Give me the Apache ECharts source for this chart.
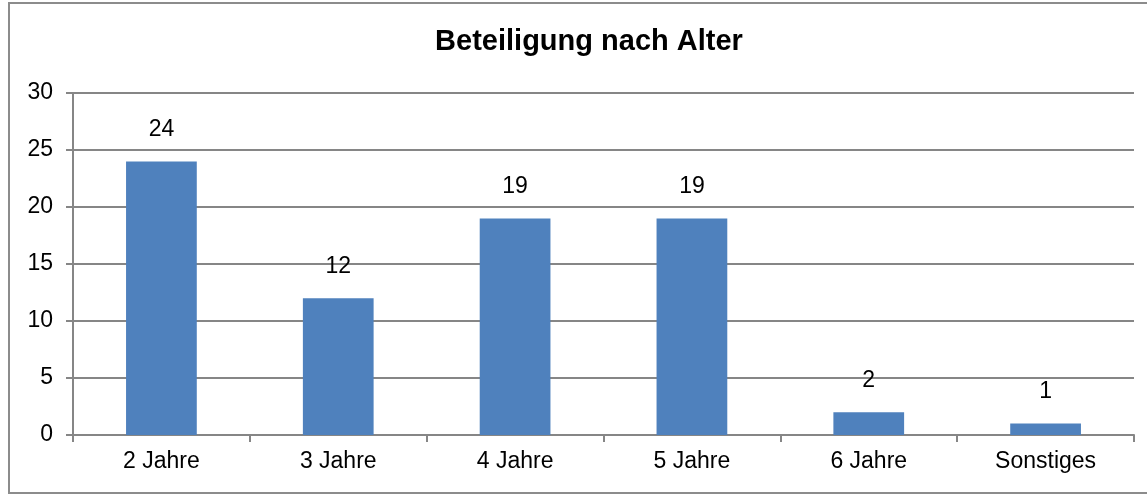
<!DOCTYPE html>
<html>
<head>
<meta charset="utf-8">
<script src="https://cdn.jsdelivr.net/npm/echarts@6/dist/echarts.min.js"></script>
<style>
  html, body { margin: 0; padding: 0; background: #fff; }
  #chart { width: 1147px; height: 495px; }
</style>
</head>
<body>
<div id="chart"></div>
<script>
const categories = ['2 Jahre', '3 Jahre', '4 Jahre', '5 Jahre', '6 Jahre', 'Sonstiges']
const values = [24, 12, 19, 19, 2, 1]
const yTicks = [0, 5, 10, 15, 20, 25, 30]

const chart = echarts.init(document.getElementById('chart'))
const font = 'Liberation Sans, Arial, sans-serif'

const option = {
  animation: false,
  title: {
    text: 'Beteiligung nach Alter',
    left: 584,
    top: 22,
    textAlign: 'center',
    textStyle: {
      fontFamily: font,
      fontSize: 29,
      fontWeight: 'bold',
      color: '#000'
    }
  },
  graphic: [
    {
      type: 'rect',
      shape: { x: 9, y: 3, width: 1150, height: 490 },
      style: { fill: 'none', stroke: '#8c8c8c', lineWidth: 2 },
      silent: true
    }
  ],
  grid: {
    left: 73,
    right: 13,
    top: 93,
    bottom: 60,
    containLabel: false
  },
  xAxis: {
    type: 'category',
    data: categories,
    axisLine: { lineStyle: { color: '#868686', width: 2 } },
    axisTick: { show: true, length: 7, alignWithLabel: false, lineStyle: { color: '#868686', width: 2 } },
    axisLabel: {
      color: '#000',
      fontFamily: font,
      fontSize: 23,
      margin: 15
    }
  },
  yAxis: {
    type: 'value',
    min: yTicks[0],
    max: yTicks[yTicks.length - 1],
    interval: 5,
    axisLine: { show: true, lineStyle: { color: '#868686', width: 2 } },
    axisTick: { show: true, length: 7, inside: false, lineStyle: { color: '#868686', width: 2 } },
    axisLabel: {
      color: '#000',
      fontFamily: font,
      fontSize: 23,
      margin: 20
    },
    splitLine: { lineStyle: { color: '#868686', width: 2 } }
  },
  series: [
    {
      type: 'bar',
      data: values,
      barWidth: '40%',
      itemStyle: { color: '#4F81BD' },
      label: {
        show: true,
        position: 'top',
        distance: 20,
        color: '#000',
        fontFamily: font,
        fontSize: 23
      }
    }
  ]
}

chart.setOption(option)
</script>
</body>
</html>
